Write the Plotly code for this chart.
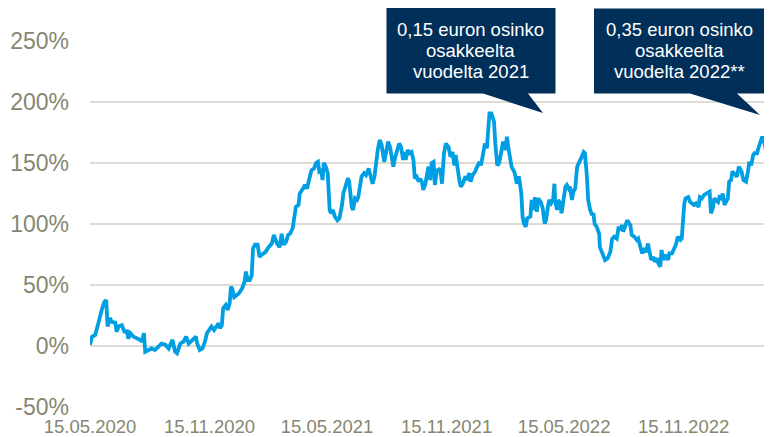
import plotly.graph_objects as go

# Share price development since 15.05.2020 (%)
dates_2020 = [
    "2020-05-15", "2020-05-18", "2020-05-23", "2020-05-27", "2020-05-29",
    "2020-06-02", "2020-06-06", "2020-06-09", "2020-06-11", "2020-06-15",
    "2020-06-17", "2020-06-23", "2020-06-25", "2020-06-28", "2020-07-03",
    "2020-07-07", "2020-07-11", "2020-07-13", "2020-07-16", "2020-07-21",
    "2020-07-26", "2020-07-31", "2020-08-03", "2020-08-06", "2020-08-08",
    "2020-08-13", "2020-08-18", "2020-08-23", "2020-08-28", "2020-09-02",
    "2020-09-08", "2020-09-13", "2020-09-19", "2020-09-23", "2020-09-26",
    "2020-10-01", "2020-10-06", "2020-10-10", "2020-10-14", "2020-10-19",
    "2020-10-25", "2020-10-27", "2020-10-31", "2020-11-04", "2020-11-08",
    "2020-11-11", "2020-11-16", "2020-11-18", "2020-11-22", "2020-11-26",
    "2020-11-29", "2020-12-01", "2020-12-04", "2020-12-06", "2020-12-10",
    "2020-12-13", "2020-12-16", "2020-12-18", "2020-12-20", "2020-12-23",
    "2020-12-27", "2020-12-30", "2021-01-04", "2021-01-08", "2021-01-10",
    "2021-01-13", "2021-01-16", "2021-01-19", "2021-01-21", "2021-01-24",
    "2021-01-28", "2021-01-31",
]
values_2020 = [
    1, 7.6, 9, 16, 21, 29.5, 36, 37.7, 16, 23,
    20, 19, 11.7, 16, 17, 11.7, 12, 6, 10.5, 7.6,
    6.5, 5, 3.5, 10.5, -4.7, -3.3, -2, -3.3, -0.5, 2,
    1, -2, 5, -4.7, -6, 2, 3.5, 7.6, 2, 5,
    7.6, 2, -3.3, -2, 3.5, 10.4, 14.5, 16, 13, 16,
    18.6, 14.5, 17, 31, 33.6, 29.5, 35, 48.6, 47, 40,
    41.8, 43, 47, 52.7, 61, 54, 54, 58, 80, 83,
    83, 73,
]

dates_2021 = [
    "2021-02-03", "2021-02-09", "2021-02-14", "2021-02-19", "2021-02-22",
    "2021-02-27", "2021-03-03", "2021-03-06", "2021-03-09", "2021-03-13",
    "2021-03-16", "2021-03-19", "2021-03-23", "2021-03-25", "2021-03-28",
    "2021-04-01", "2021-04-03", "2021-04-08", "2021-04-11", "2021-04-14",
    "2021-04-16", "2021-04-19", "2021-04-21", "2021-04-25", "2021-04-28",
    "2021-05-01", "2021-05-03", "2021-05-06", "2021-05-08", "2021-05-10",
    "2021-05-13", "2021-05-16", "2021-05-19", "2021-05-21", "2021-05-24",
    "2021-05-27", "2021-05-31", "2021-06-03", "2021-06-07", "2021-06-09",
    "2021-06-13", "2021-06-16", "2021-06-18", "2021-06-22", "2021-06-24",
    "2021-06-27", "2021-06-30", "2021-07-02", "2021-07-05", "2021-07-07",
    "2021-07-11", "2021-07-14", "2021-07-18", "2021-07-21", "2021-07-24",
    "2021-07-27", "2021-07-29", "2021-08-01", "2021-08-04", "2021-08-07",
    "2021-08-11", "2021-08-14", "2021-08-17", "2021-08-20", "2021-08-23",
    "2021-08-25", "2021-08-28", "2021-08-31", "2021-09-03", "2021-09-06",
    "2021-09-09", "2021-09-11", "2021-09-13", "2021-09-16", "2021-09-19",
    "2021-09-22", "2021-09-25", "2021-09-27", "2021-09-30", "2021-10-03",
    "2021-10-05",
]
values_2021 = [
    74.6, 77, 81, 84, 91, 84, 81, 92, 83, 85.5,
    91, 92, 96.5, 106, 114, 115.6, 125, 129, 132, 129,
    134.7, 140, 144, 145.6, 150, 151, 143, 144, 136, 150,
    147, 141.6, 111.5, 108.8, 111.5, 106, 103, 104.6, 115.6, 125,
    132, 137.5, 134.7, 114, 111.5, 121, 119.7, 122, 132, 138.8,
    141.6, 140, 145.6, 140, 133, 138.8, 150, 160.6, 168.8, 164.8,
    151, 159, 167.5, 163, 155, 147, 155, 162, 166, 163,
    152.5, 159, 152.5, 160.6, 158, 159, 152.5, 137.5, 138.8, 134.7,
    137,
]

dates_2022 = [
    "2021-10-08", "2021-10-10", "2021-10-13", "2021-10-16", "2021-10-18",
    "2021-10-21", "2021-10-23", "2021-10-26", "2021-10-28", "2021-10-31",
    "2021-11-02", "2021-11-05", "2021-11-08", "2021-11-11", "2021-11-14",
    "2021-11-18", "2021-11-21", "2021-11-24", "2021-11-27", "2021-11-29",
    "2021-12-02", "2021-12-05", "2021-12-07", "2021-12-10", "2021-12-14",
    "2021-12-16", "2021-12-20", "2021-12-22", "2021-12-25", "2021-12-29",
    "2022-01-01", "2022-01-05", "2022-01-07", "2022-01-11", "2022-01-13",
    "2022-01-16", "2022-01-18", "2022-01-20", "2022-01-23", "2022-01-25",
    "2022-01-27", "2022-01-29", "2022-02-01", "2022-02-04", "2022-02-07",
    "2022-02-10", "2022-02-13", "2022-02-16", "2022-02-18", "2022-02-21",
    "2022-02-23", "2022-02-26", "2022-02-28", "2022-03-03", "2022-03-06",
    "2022-03-08", "2022-03-10", "2022-03-12", "2022-03-14", "2022-03-17",
    "2022-03-19", "2022-03-24", "2022-03-26", "2022-03-29", "2022-03-31",
    "2022-04-03", "2022-04-05", "2022-04-09", "2022-04-12", "2022-04-15",
    "2022-04-17", "2022-04-20", "2022-04-22", "2022-04-25", "2022-04-28",
    "2022-04-30", "2022-05-01", "2022-05-04", "2022-05-06", "2022-05-09",
    "2022-05-11", "2022-05-14", "2022-05-17", "2022-05-19", "2022-05-22",
    "2022-05-24", "2022-05-27", "2022-05-29", "2022-06-01", "2022-06-04",
    "2022-06-08", "2022-06-11", "2022-06-14", "2022-06-16", "2022-06-19",
    "2022-06-21", "2022-06-24", "2022-06-27", "2022-06-29",
]
values_2022 = [
    134.7, 128, 132, 144, 147, 136, 150, 151, 132, 144,
    144, 145.6, 133, 158, 166, 163, 155, 159, 148, 156.6,
    144, 134.7, 130.6, 133, 139, 136, 141.6, 134.7, 140, 143,
    147, 151, 148, 158, 166, 162, 173, 190.7, 190.7, 186.6,
    184, 166, 148, 150, 160.6, 167.5, 160.6, 171.6, 163, 151,
    147, 144, 141.6, 133, 139, 133, 125, 106, 100.5, 97.8,
    104.6, 106, 119.7, 111.5, 122, 110, 121, 118, 113, 100.5,
    103, 114, 119.7, 117, 119.7, 133, 119.7, 111.5, 119.7, 117,
    108.8, 119.7, 130.6, 132, 129, 130.6, 119.7, 126.5, 129, 147,
    151, 155, 159, 158, 139, 119.7, 111.5, 107.4, 108.8,
]

dates_2023 = [
    "2022-07-01", "2022-07-04", "2022-07-08", "2022-07-09", "2022-07-12",
    "2022-07-14", "2022-07-17", "2022-07-21", "2022-07-25", "2022-07-28",
    "2022-07-31", "2022-08-04", "2022-08-07", "2022-08-09", "2022-08-12",
    "2022-08-14", "2022-08-18", "2022-08-20", "2022-08-25", "2022-08-27",
    "2022-08-31", "2022-09-04", "2022-09-06", "2022-09-09", "2022-09-12",
    "2022-09-15", "2022-09-18", "2022-09-21", "2022-09-23", "2022-09-26",
    "2022-09-29", "2022-10-02", "2022-10-05", "2022-10-07", "2022-10-10",
    "2022-10-12", "2022-10-15", "2022-10-19", "2022-10-22", "2022-10-24",
    "2022-10-28", "2022-10-31", "2022-11-03", "2022-11-06", "2022-11-10",
    "2022-11-12", "2022-11-14", "2022-11-16", "2022-11-18", "2022-11-22",
    "2022-11-25", "2022-11-28", "2022-12-01", "2022-12-04", "2022-12-08",
    "2022-12-10", "2022-12-13", "2022-12-17", "2022-12-21", "2022-12-25",
    "2022-12-27", "2022-12-30", "2023-01-01", "2023-01-04", "2023-01-07",
    "2023-01-09", "2023-01-12", "2023-01-14", "2023-01-17", "2023-01-19",
    "2023-01-22", "2023-01-24", "2023-01-27", "2023-01-29", "2023-02-01",
    "2023-02-05", "2023-02-08", "2023-02-12", "2023-02-15", "2023-02-19",
    "2023-02-22", "2023-02-24", "2023-02-27", "2023-03-02", "2023-03-04",
    "2023-03-08", "2023-03-10", "2023-03-14", "2023-03-16", "2023-03-19",
    "2023-03-22", "2023-03-25", "2023-03-27", "2023-03-29",
]
values_2023 = [
    100, 97.8, 92, 81, 77, 73, 70.5, 72, 77, 88,
    89.6, 88, 97.8, 95, 99, 93.7, 100.5, 103, 99, 91,
    89.6, 87, 88, 83, 76, 78.7, 77, 84, 77, 70.5,
    73, 69, 72, 67.8, 65, 78.7, 70.5, 74.6, 70.5, 76,
    76, 80, 83, 89.6, 87, 88, 106, 117, 121, 122,
    118, 117, 115.6, 117, 114, 122, 121, 124, 125, 126.5,
    108.8, 113, 121, 119.7, 118, 122, 121, 125, 115.6, 118,
    121, 134.7, 136, 143, 141.6, 138.8, 147, 143, 136, 134.7,
    143, 151, 148, 156.6, 158, 158, 162, 167.5, 171.6, 167.5,
    159, 155, 147, 139,
]

tick_dates = ["2020-05-15", "2020-11-15", "2021-05-15",
              "2021-11-15", "2022-05-15", "2022-11-15"]
tick_labels = ["15.05.2020", "15.11.2020", "15.05.2021",
               "15.11.2021", "15.05.2022", "15.11.2022"]
y_ticks = [-50, 0, 50, 100, 150, 200, 250]
y_labels = ["-50%", "0%", "50%", "100%", "150%", "200%", "250%"]

callout_lines = [
    ["0,15 euron osinko", "osakkeelta", "vuodelta 2021"],
    ["0,35 euron osinko", "osakkeelta", "vuodelta 2022**"],
]

dates = dates_2020 + dates_2021 + dates_2022 + dates_2023
values = values_2020 + values_2021 + values_2022 + values_2023
assert len(dates) == len(values)

# page has an 8px body margin, so the figure is 8px smaller than the window
PAGE = 8
W, H = 772 - PAGE, 437 - PAGE
ML, MR, MT, MB = 90 - PAGE, 0, 41 - PAGE, 30
NAVY = "#00305a"
FONT = "Liberation Sans, Arial, sans-serif"


# window pixel -> paper coords (plot area spans x 90..772, y 41..407)
def px(x):
    return (x - 90) / 682


def py(y):
    return (407 - y) / 366


fig = go.Figure()
fig.add_trace(
    go.Scatter(
        x=dates,
        y=values,
        mode="lines",
        line=dict(color="#009fe3", width=3.8),
        showlegend=False,
    )
)

# callout boxes with a tail (window pixel geometry)
boxes = [
    dict(x0=386.5, x1=555.5, y0=7.5, y1=93.5, tail=(483, 528, 543, 113)),
    dict(x0=594, x1=765.5, y0=8.5, y1=93.5, tail=(690, 737, 760, 115)),
]
for box, lines in zip(boxes, callout_lines):
    t0, t1, tx, ty = box["tail"]
    path = (
        f"M {px(box['x0'])},{py(box['y0'])} L {px(box['x1'])},{py(box['y0'])} "
        f"L {px(box['x1'])},{py(box['y1'])} L {px(t1)},{py(box['y1'])} "
        f"L {px(tx)},{py(ty)} L {px(t0)},{py(box['y1'])} "
        f"L {px(box['x0'])},{py(box['y1'])} Z"
    )
    fig.add_shape(type="path", path=path, xref="paper", yref="paper",
                  fillcolor=NAVY, line=dict(width=0), layer="above")
    cx = (box["x0"] + box["x1"]) / 2
    for text, ly in zip(lines, [29.5, 50.5, 72]):
        fig.add_annotation(
            x=px(cx), y=py(ly), xref="paper", yref="paper",
            text=text, showarrow=False, xanchor="center", yanchor="middle",
            font=dict(family=FONT, size=18.5, color="white"),
        )

fig.update_xaxes(
    type="date",
    range=["2020-05-15", "2023-03-31"],
    tickvals=tick_dates,
    ticktext=tick_labels,
    showgrid=False,
    zeroline=False,
    showline=False,
    ticks="",
    ticklabelstandoff=6,
    tickfont=dict(family=FONT, size=18.5, color="#868670"),
    automargin=False,
)
fig.update_yaxes(
    range=[-50, 250],
    tickvals=y_ticks,
    ticktext=y_labels,
    showgrid=True,
    gridcolor="#dddbd3",
    gridwidth=2,
    zeroline=False,
    showline=False,
    ticks="",
    ticklabelstandoff=20,
    tickfont=dict(family=FONT, size=23, color="#868670"),
    automargin=False,
)
fig.update_layout(
    width=W,
    height=H,
    margin=dict(l=ML, r=MR, t=MT, b=MB),
    plot_bgcolor="white",
    paper_bgcolor="white",
)

fig.write_html("out.html")
